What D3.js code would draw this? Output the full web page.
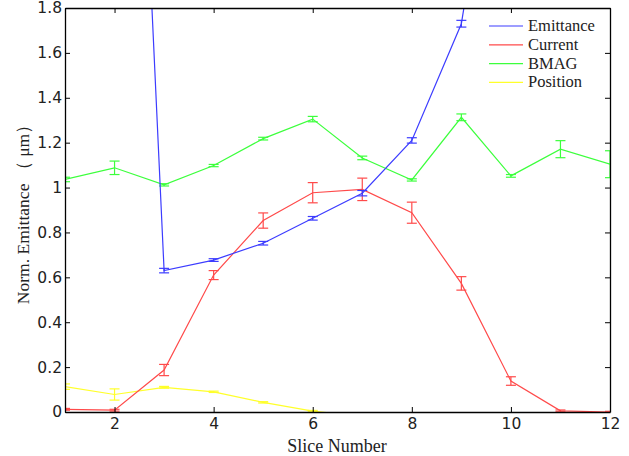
<!DOCTYPE html>
<html>
<head>
<meta charset="utf-8">
<script src="https://cdn.jsdelivr.net/npm/d3@7/dist/d3.min.js"></script>
<style>
  html, body { margin: 0; padding: 0; background: #fff; }
  svg { display: block; }
  .serif { font-family: "Liberation Serif", "Times New Roman", serif; }
  .sans { font-family: "DejaVu Sans", "Liberation Sans", Arial, sans-serif; }
</style>
</head>
<body>
<svg id="chart" width="629" height="456"></svg>
<script>
// Slice-by-slice beam measurements
const slices = [1, 2, 3, 4, 5, 6, 7, 8, 9, 10, 11, 12];

const emittance    = [6.0, 5.4, 0.63, 0.677, 0.752, 0.863, 0.975, 1.21, 1.73, 3.1, 4.5, 5.5];
const emittanceErr = [0.02, 0.02, 0.01, 0.006, 0.008, 0.008, 0.012, 0.012, 0.015, 0.02, 0.02, 0.02];

const current    = [0.012, 0.008, 0.187, 0.61, 0.853, 0.977, 0.992, 0.888, 0.573, 0.138, 0.005, 0.0];
const currentErr = [0.004, 0.004, 0.025, 0.02, 0.034, 0.045, 0.05, 0.047, 0.03, 0.019, 0.004, 0.003];

const bmag    = [1.036, 1.088, 1.012, 1.098, 1.218, 1.305, 1.132, 1.034, 1.313, 1.052, 1.171, 1.104];
const bmagErr = [0.01, 0.03, 0.005, 0.005, 0.006, 0.012, 0.008, 0.005, 0.015, 0.006, 0.038, 0.06];

const positionSlices = [1, 2, 3, 4, 5, 6, 7];
const position    = [0.113, 0.078, 0.11, 0.09, 0.043, 0.004, -0.02];
const positionErr = [0.012, 0.025, 0.004, 0.003, 0.003, 0.003, 0.003];

const xTicks = [2, 4, 6, 8, 10, 12];
const yTicks = [0, 0.2, 0.4, 0.6, 0.8, 1, 1.2, 1.4, 1.6, 1.8];

const seriesNames = ["Emittance", "Current", "BMAG", "Position"];
const seriesColors = ["#3c3cff", "#ff4a4a", "#3cff3c", "#ffff2a"];

const margin = { left: 65, top: 8, right: 19, bottom: 44 };
const W = 629, H = 456;
const innerW = W - margin.left - margin.right;
const innerH = H - margin.top - margin.bottom;

const svg = d3.select("#chart");
const x = d3.scaleLinear().domain([1, 12]).range([margin.left, margin.left + innerW]);
const y = d3.scaleLinear().domain([0, 1.8]).range([margin.top + innerH, margin.top]);

svg.append("defs").append("clipPath").attr("id", "plotClip")
  .append("rect")
  .attr("x", margin.left).attr("y", margin.top)
  .attr("width", innerW).attr("height", innerH);

const plot = svg.append("g").attr("clip-path", "url(#plotClip)");

function drawSeries(xs, vals, errs, color) {
  const pts = xs.map((s, i) => ({ s, v: vals[i], e: errs[i] }));
  const line = d3.line().x(d => x(d.s)).y(d => y(d.v));
  plot.append("path").datum(pts)
    .attr("d", line)
    .attr("fill", "none")
    .attr("stroke", color)
    .attr("stroke-width", 1.2);
  const g = plot.append("g").attr("stroke", color).attr("stroke-width", 1.2);
  const cap = 5;
  pts.forEach(d => {
    const x0 = x(d.s), y1 = y(d.v - d.e), y2 = y(d.v + d.e);
    g.append("line").attr("x1", x0).attr("x2", x0).attr("y1", y1).attr("y2", y2);
    g.append("line").attr("x1", x0 - cap).attr("x2", x0 + cap).attr("y1", y1).attr("y2", y1);
    g.append("line").attr("x1", x0 - cap).attr("x2", x0 + cap).attr("y1", y2).attr("y2", y2);
  });
}

drawSeries(slices, bmag, bmagErr, seriesColors[2]);
drawSeries(positionSlices, position, positionErr, seriesColors[3]);
drawSeries(slices, current, currentErr, seriesColors[1]);
drawSeries(slices, emittance, emittanceErr, seriesColors[0]);

// Axes box with inward ticks on all four sides
const bottomAxis = d3.axisBottom(x).tickValues(xTicks).tickSizeInner(-5).tickSizeOuter(0).tickPadding(6).tickFormat(d3.format("d"));
const topAxis = d3.axisTop(x).tickValues(xTicks).tickSizeInner(-5).tickSizeOuter(0).tickFormat("");
const leftAxis = d3.axisLeft(y).tickValues(yTicks).tickSizeInner(-5).tickSizeOuter(0).tickPadding(3).tickFormat(d => d3.format("~g")(d));
const rightAxis = d3.axisRight(y).tickValues(yTicks).tickSizeInner(-5).tickSizeOuter(0).tickFormat("");

function styleAxis(g) {
  g.attr("font-family", null).attr("font-size", null).attr("class", "sans");
  g.select(".domain").attr("stroke", "#000").attr("stroke-width", 1.3);
  g.selectAll(".tick line").attr("stroke", "#000").attr("stroke-width", 1);
  g.selectAll(".tick text").attr("fill", "#222").style("font-size", "15.5px");
}

svg.append("g").attr("transform", `translate(0,${margin.top + innerH})`).call(bottomAxis).call(styleAxis);
svg.append("g").attr("transform", `translate(0,${margin.top})`).call(topAxis).call(styleAxis);
svg.append("g").attr("transform", `translate(${margin.left},0)`).call(leftAxis).call(styleAxis);
svg.append("g").attr("transform", `translate(${margin.left + innerW},0)`).call(rightAxis).call(styleAxis);

// Axis titles
svg.append("text")
  .attr("class", "serif")
  .attr("x", 337).attr("y", 452)
  .attr("text-anchor", "middle")
  .style("font-size", "18px").attr("fill", "#222")
  .text("Slice Number");
svg.append("text")
  .attr("class", "serif")
  .attr("transform", `translate(29,210) rotate(-90)`)
  .attr("text-anchor", "middle")
  .style("font-size", "17.5px").attr("fill", "#222")
  .text("Norm. Emittance （ μm）");

// Legend
const legend = svg.append("g").attr("class", "serif");
seriesNames.forEach((name, i) => {
  const ly = 26 + i * 18.8;
  legend.append("line")
    .attr("x1", 489).attr("x2", 523).attr("y1", ly).attr("y2", ly)
    .attr("stroke", seriesColors[i]).attr("stroke-width", 1.2);
  legend.append("text")
    .attr("x", 528).attr("y", ly + 5)
    .style("font-size", "16.5px").attr("fill", "#222")
    .text(name);
});
</script>
</body>
</html>
